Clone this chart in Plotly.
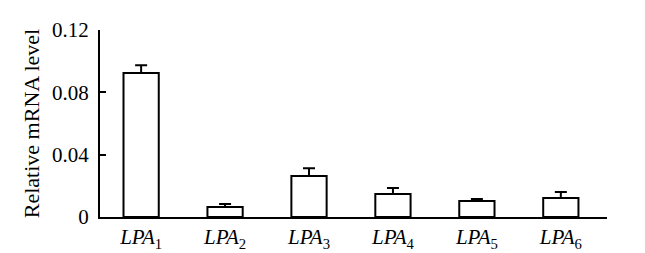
import plotly.graph_objects as go

categories = ["<i>LPA</i><sub>1</sub>", "<i>LPA</i><sub>2</sub>", "<i>LPA</i><sub>3</sub>",
              "<i>LPA</i><sub>4</sub>", "<i>LPA</i><sub>5</sub>", "<i>LPA</i><sub>6</sub>"]
values = [0.0924, 0.0064, 0.0263, 0.0148, 0.0103, 0.0122]
errors = [0.0050, 0.0019, 0.0050, 0.0038, 0.0013, 0.0038]
y_ticks = [0, 0.04, 0.08, 0.12]
y_tick_labels = ["0", "0.04", "0.08", "0.12"]

x_idx = list(range(len(categories)))

fig = go.Figure()
fig.add_trace(go.Bar(
    x=x_idx, y=values, width=0.42,
    marker=dict(color="white", line=dict(color="black", width=2)),
    error_y=dict(type="data", array=errors, arrayminus=[0]*len(errors), symmetric=False,
                 color="black", thickness=2, width=6),
))

font = "Liberation Serif, Times New Roman, serif"
fig.update_layout(
    width=637, height=245,
    margin=dict(l=92, r=38, t=22, b=36, autoexpand=False),
    paper_bgcolor="white", plot_bgcolor="white",
    showlegend=False,
    font=dict(family=font, color="black", size=20),
    xaxis=dict(range=[-0.49, 5.55], tickvals=x_idx, ticktext=categories,
               showline=True, linecolor="black", linewidth=2, ticks="",
               showgrid=False, zeroline=False, tickfont=dict(size=21),
               automargin=False),
    yaxis=dict(range=[0, 0.12], tickvals=y_ticks, ticktext=y_tick_labels,
               showline=True, linecolor="black", linewidth=2,
               ticks="inside", ticklen=6, tickwidth=2, tickcolor="black",
               ticklabelstandoff=5,
               showgrid=False, zeroline=False, tickfont=dict(size=21),
               automargin=False,
               title=dict(text="Relative mRNA level", font=dict(size=22), standoff=6)),
)

fig.write_html("out.html")
